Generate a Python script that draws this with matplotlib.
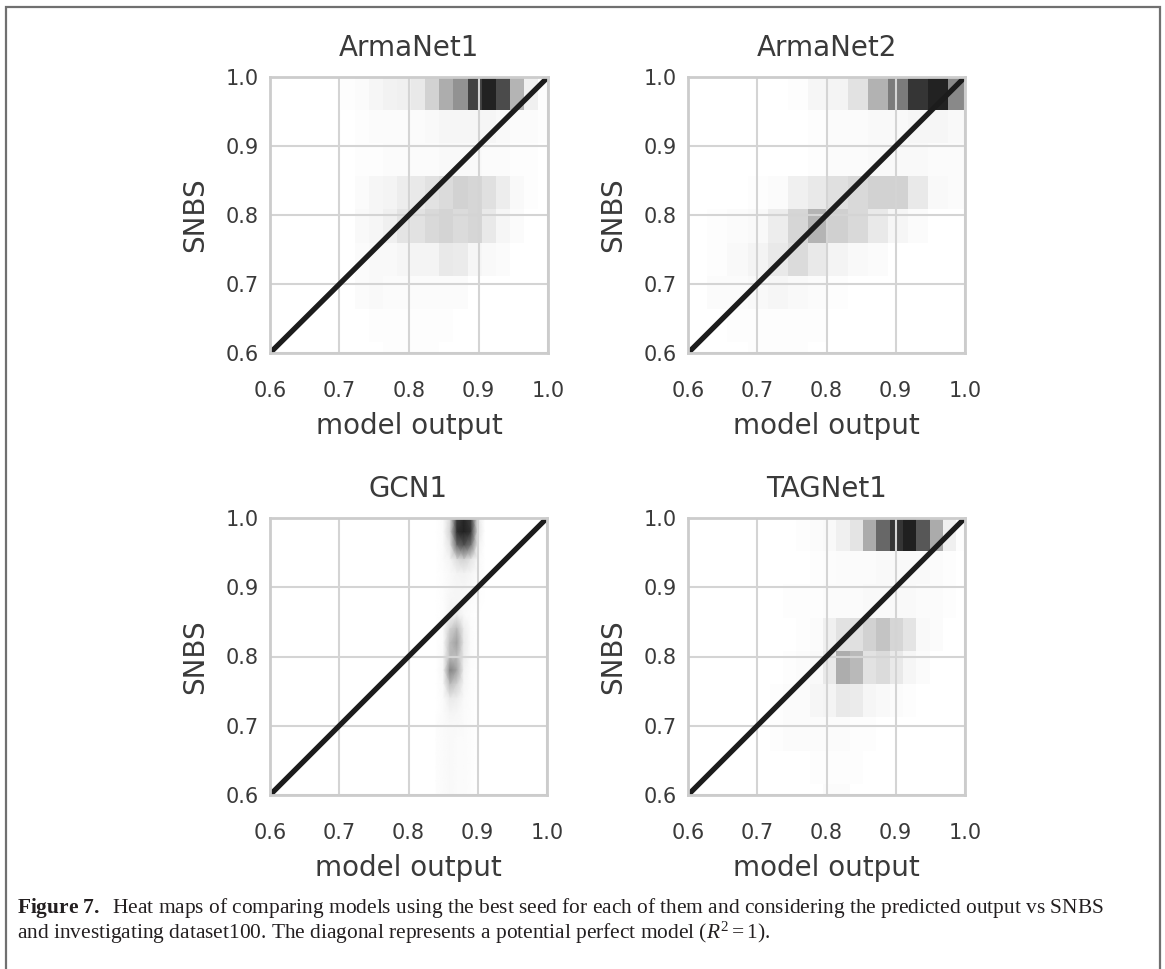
import numpy as np
import matplotlib
matplotlib.use("Agg")
import matplotlib.pyplot as plt
from matplotlib.colors import LinearSegmentedColormap
from matplotlib.patches import Rectangle

# ---- data (darkness of each 2D-histogram cell, 0 = empty, 1 = max) ----
titles = ["ArmaNet1", "ArmaNet2", "GCN1", "TAGNet1"]
ticks = [0.6, 0.7, 0.8, 0.9, 1.0]

# rows listed from top (SNBS ~ 1.0) to bottom
snbs_edges = [1.0, 0.952, 0.904, 0.856, 0.808, 0.760, 0.712, 0.664, 0.616, 0.568]

arma1_edges = np.linspace(0.600, 1.006, 21)
arma1_vals = [
    [0, 0, 0, 0, 0, 0.01, 0.02, 0.04, 0.06, 0.07, 0.10, 0.20, 0.36, 0.48, 0.83, 0.97, 0.79, 0.33, 0.07, 0.01],
    [0, 0, 0, 0, 0, 0, 0.01, 0.02, 0.02, 0.02, 0.02, 0.03, 0.04, 0.04, 0.04, 0.04, 0.03, 0.02, 0.02, 0.01],
    [0, 0, 0, 0, 0, 0, 0.01, 0.01, 0.02, 0.02, 0.02, 0.02, 0.03, 0.03, 0.03, 0.02, 0.02, 0.01, 0.01, 0],
    [0, 0, 0, 0, 0, 0, 0.02, 0.04, 0.05, 0.08, 0.10, 0.13, 0.16, 0.20, 0.18, 0.14, 0.08, 0.03, 0.01, 0],
    [0, 0, 0, 0, 0, 0, 0.03, 0.04, 0.07, 0.12, 0.13, 0.17, 0.19, 0.16, 0.18, 0.10, 0.04, 0.02, 0, 0],
    [0, 0, 0, 0, 0, 0, 0.02, 0.03, 0.03, 0.04, 0.05, 0.05, 0.10, 0.09, 0.04, 0.03, 0.02, 0, 0, 0],
    [0, 0, 0, 0, 0, 0, 0.02, 0.03, 0.02, 0.02, 0.02, 0.02, 0.02, 0.02, 0, 0, 0, 0, 0, 0],
    [0, 0, 0, 0, 0, 0, 0, 0.01, 0.01, 0.01, 0.01, 0.01, 0.01, 0, 0, 0, 0, 0, 0, 0],
    [0, 0, 0, 0, 0, 0, 0, 0, 0.01, 0.01, 0.01, 0.01, 0, 0, 0, 0, 0, 0, 0, 0],
]

arma2_edges = np.linspace(0.599, 1.005, 15)
arma2_vals = [
    [0, 0, 0, 0, 0, 0.01, 0.04, 0.05, 0.13, 0.34, 0.58, 0.89, 0.97, 0.52],
    [0, 0, 0, 0, 0, 0, 0.01, 0.02, 0.02, 0.03, 0.03, 0.04, 0.04, 0.03],
    [0, 0, 0, 0, 0, 0, 0.01, 0.02, 0.02, 0.03, 0.03, 0.03, 0.02, 0.02],
    [0, 0, 0, 0.01, 0.02, 0.07, 0.10, 0.14, 0.17, 0.20, 0.20, 0.10, 0.03, 0.02],
    [0, 0.01, 0.02, 0.03, 0.08, 0.18, 0.33, 0.21, 0.17, 0.10, 0.04, 0.02, 0, 0],
    [0, 0.01, 0.03, 0.05, 0.10, 0.16, 0.10, 0.05, 0.03, 0.02, 0, 0, 0, 0],
    [0, 0.02, 0.02, 0.03, 0.04, 0.03, 0.02, 0.01, 0, 0, 0, 0, 0, 0],
    [0, 0, 0.01, 0.01, 0.01, 0.01, 0.01, 0, 0, 0, 0, 0, 0, 0],
    [0, 0, 0, 0.01, 0.01, 0.01, 0, 0, 0, 0, 0, 0, 0, 0],
]

tag1_edges = np.linspace(0.602, 1.007, 22)
tag1_vals = [
    [0, 0, 0, 0, 0, 0, 0, 0, 0.01, 0.02, 0.03, 0.07, 0.12, 0.37, 0.67, 0.89, 0.98, 0.74, 0.37, 0.07, 0.01],
    [0, 0, 0, 0, 0, 0, 0, 0, 0, 0.01, 0.015, 0.02, 0.02, 0.02, 0.03, 0.03, 0.03, 0.03, 0.02, 0.01, 0],
    [0, 0, 0, 0, 0, 0, 0, 0.01, 0.01, 0.01, 0.02, 0.02, 0.02, 0.03, 0.03, 0.03, 0.03, 0.02, 0.02, 0.01, 0],
    [0, 0, 0, 0, 0, 0, 0, 0, 0.01, 0.02, 0.07, 0.13, 0.14, 0.20, 0.26, 0.18, 0.12, 0.03, 0.02, 0, 0],
    [0, 0, 0, 0, 0, 0, 0, 0.01, 0.02, 0.03, 0.10, 0.36, 0.31, 0.13, 0.16, 0.10, 0.04, 0.02, 0, 0, 0],
    [0, 0, 0, 0, 0, 0, 0.01, 0.02, 0.02, 0.04, 0.05, 0.10, 0.09, 0.04, 0.03, 0.02, 0.01, 0, 0, 0, 0],
    [0, 0, 0, 0, 0, 0, 0.01, 0.02, 0.02, 0.02, 0.02, 0.02, 0.01, 0.01, 0, 0, 0, 0, 0, 0, 0],
    [0, 0, 0, 0, 0, 0, 0, 0, 0, 0.01, 0.01, 0.01, 0.01, 0, 0, 0, 0, 0, 0, 0, 0],
    [0, 0, 0, 0, 0, 0, 0, 0, 0, 0, 0.02, 0.02, 0, 0, 0, 0, 0, 0, 0, 0, 0],
]

# GCN1 is a smooth (interpolated) map on cell centres
gcn1_x = [0.84, 0.85, 0.86, 0.87, 0.88, 0.89, 0.90, 0.91]
gcn1_y = [1.00, 0.98, 0.96, 0.94, 0.92, 0.90, 0.88, 0.86, 0.84, 0.82, 0.80,
          0.78, 0.76, 0.74, 0.72, 0.70, 0.68, 0.66, 0.64, 0.62, 0.60]
gcn1_vals = [
    [0, 0.02, 0.15, 0.85, 0.95, 0.85, 0.10, 0],
    [0, 0.02, 0.20, 0.92, 0.98, 0.90, 0.12, 0],
    [0, 0.02, 0.12, 0.65, 0.75, 0.60, 0.06, 0],
    [0, 0.02, 0.05, 0.15, 0.20, 0.12, 0.03, 0],
    [0, 0.01, 0.03, 0.05, 0.06, 0.04, 0.02, 0],
    [0, 0.01, 0.03, 0.04, 0.04, 0.03, 0.01, 0],
    [0, 0.01, 0.04, 0.04, 0.03, 0.02, 0.01, 0],
    [0, 0.01, 0.05, 0.08, 0.03, 0.01, 0, 0],
    [0, 0.02, 0.20, 0.30, 0.08, 0.02, 0, 0],
    [0, 0.02, 0.30, 0.42, 0.10, 0.02, 0, 0],
    [0, 0.03, 0.30, 0.30, 0.08, 0.02, 0, 0],
    [0, 0.04, 0.55, 0.40, 0.06, 0.01, 0, 0],
    [0, 0.03, 0.30, 0.20, 0.04, 0.01, 0, 0],
    [0, 0.02, 0.10, 0.08, 0.03, 0.01, 0, 0],
    [0, 0.02, 0.05, 0.04, 0.02, 0.01, 0, 0],
    [0.01, 0.02, 0.03, 0.03, 0.02, 0.01, 0, 0],
    [0.01, 0.02, 0.03, 0.02, 0.02, 0.01, 0, 0],
    [0.01, 0.02, 0.03, 0.02, 0.02, 0.01, 0, 0],
    [0.01, 0.02, 0.03, 0.02, 0.02, 0.01, 0, 0],
    [0.01, 0.02, 0.03, 0.02, 0.02, 0.01, 0, 0],
    [0.01, 0.02, 0.03, 0.02, 0.02, 0.01, 0, 0],
]

caption = (r"$\mathbf{Figure\ 7.}$  Heat maps of comparing models using the best seed "
           "for each of them and considering the predicted output vs SNBS\n"
           "and investigating dataset100. The diagonal represents a potential "
           r"perfect model ($R^2 = 1$).")

# ---- figure ----
W, H = 1165, 969
plt.rcParams["mathtext.fontset"] = "custom"
plt.rcParams["mathtext.rm"] = "Liberation Serif"
plt.rcParams["mathtext.it"] = "Liberation Serif:italic"
plt.rcParams["mathtext.bf"] = "Liberation Serif:bold"
fig = plt.figure(figsize=(W / 100, H / 100), dpi=100)

cmap = LinearSegmentedColormap.from_list("grey", ["#ffffff", "#1c1c1c"])
txt = "#3a3a3a"

# axes boxes in pixels: left, top, right, bottom
boxes = [(270, 77, 548, 353), (688, 77, 965, 353),
         (270, 518, 547, 795), (688, 518, 965, 795)]

axes = []
for (l, t, r, b) in boxes:
    axes.append(fig.add_axes([l / W, 1 - b / H, (r - l) / W, (b - t) / H]))

axes[0].pcolormesh(arma1_edges, snbs_edges, np.array(arma1_vals), cmap=cmap, vmin=0, vmax=1)
axes[1].pcolormesh(arma2_edges, snbs_edges, np.array(arma2_vals), cmap=cmap, vmin=0, vmax=1)
gx, gy = np.meshgrid(gcn1_x, gcn1_y)
axes[2].pcolormesh(gx, gy, np.array(gcn1_vals), cmap=cmap, vmin=0, vmax=1, shading="gouraud")
axes[3].pcolormesh(tag1_edges, snbs_edges, np.array(tag1_vals), cmap=cmap, vmin=0, vmax=1)

for i, ax in enumerate(axes):
    ax.set_xlim(0.6, 1.0)
    ax.set_ylim(0.6, 1.0)
    ax.set_axisbelow(False)
    ax.grid(True, color="#d4d4d4", linewidth=1.5)
    ax.plot([0.6, 1.0], [0.6, 1.0], color="#1c1c1c", linewidth=3.8, zorder=3)
    ax.set_xticks(ticks)
    ax.set_yticks(ticks)
    ax.set_xticklabels(["%.1f" % v for v in ticks])
    ax.set_yticklabels(["%.1f" % v for v in ticks])
    ax.tick_params(axis="both", length=0, labelsize=15, labelcolor=txt)
    ax.tick_params(axis="x", pad=20)
    ax.tick_params(axis="y", pad=8)
    for s in ax.spines.values():
        s.set_color("#cccccc")
        s.set_linewidth(2)
        s.set_zorder(4)
    ax.set_title(titles[i], fontsize=20, color=txt, pad=15)
    ax.set_xlabel("model output", fontsize=20, color=txt, labelpad=8)
    ax.set_ylabel("SNBS", fontsize=20, color=txt, labelpad=12)

# frame around the figure
fig.add_artist(Rectangle((6 / W, -0.05), (1160 - 6) / W, 1.05 - 7 / H,
                         transform=fig.transFigure, fill=False,
                         edgecolor="#707070", linewidth=1.6))

# caption
fig.text(17 / W, 1 - 896 / H, caption, family="Liberation Serif",
         fontsize=15.4, color="#231f20", va="top", linespacing=0.97)

fig.savefig("out.png", dpi=100)
